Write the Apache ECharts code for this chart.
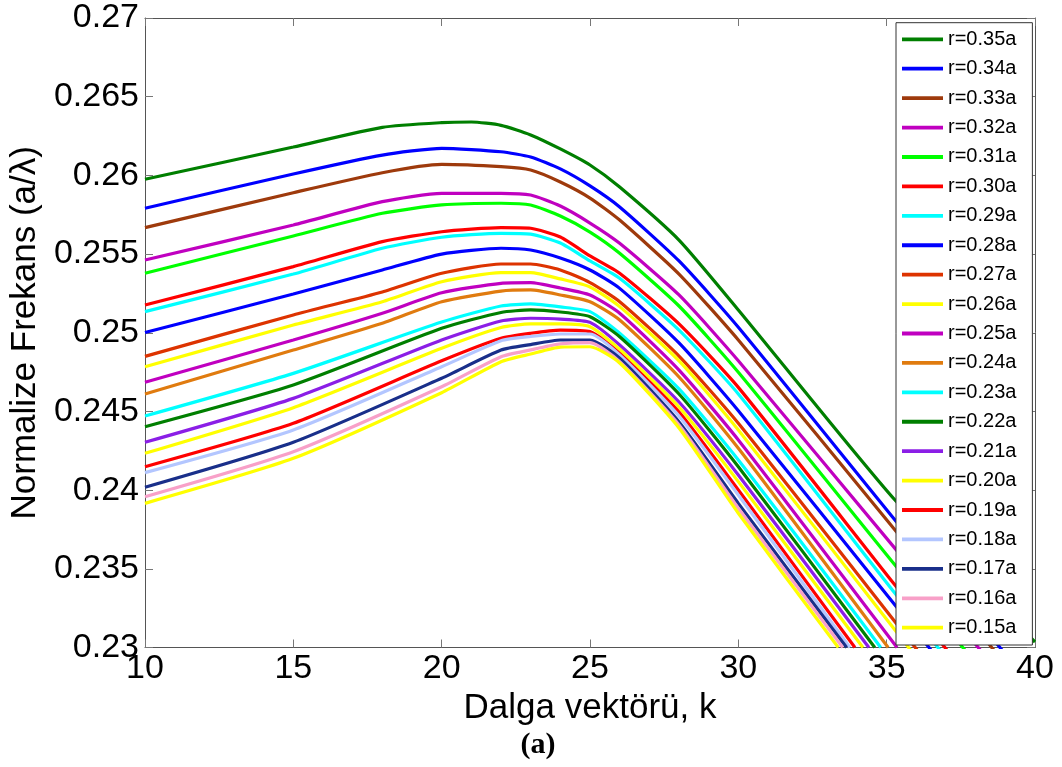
<!DOCTYPE html>
<html>
<head>
<meta charset="utf-8">
<script src="https://cdn.jsdelivr.net/npm/echarts@6/dist/echarts.min.js"></script>
<style>
html,body{margin:0;padding:0;background:#fff;}
#chart{width:1062px;height:767px;}
</style>
</head>
<body>
<div id="chart"></div>
<script>
// ---- data (k, normalized frequency) ----
const r35 = [[10,0.25975],[15,0.26180],[18,0.26305],[20,0.26335],[21,0.26339],[22,0.26318],[23,0.26257],[24,0.26168],[25,0.26066],[26,0.25926],[28,0.25589],[30,0.25145],[35.28,0.23937],[40,0.23035]];
const r34 = [[10,0.25791],[15,0.26009],[18,0.26129],[20,0.26172],[22,0.26150],[23,0.26117],[24,0.26041],[25,0.25933],[26,0.25799],[28,0.25456],[30,0.25035],[35.28,0.23810],[40,0.22730]];
const r33 = [[10,0.25668],[15,0.25890],[18,0.26017],[20,0.26070],[22,0.26055],[23,0.26034],[24,0.25958],[25,0.25856],[26,0.25716],[28,0.25373],[30,0.24954],[35.28,0.23747],[40,0.22666]];
const r32 = [[10,0.25462],[15,0.25685],[18,0.25833],[20,0.25886],[22,0.25886],[23,0.25875],[24,0.25805],[25,0.25697],[26,0.25568],[28,0.25240],[30,0.24822],[35.28,0.23630],[40,0.22571]];
const r31 = [[10,0.25378],[15,0.25615],[18,0.25759],[20,0.25812],[22,0.25823],[23,0.25812],[24,0.25742],[25,0.25640],[26,0.25505],[28,0.25170],[30,0.24749],[35.28,0.23524],[40,0.22444]];
const r30 = [[10,0.25176],[15,0.25420],[18,0.25579],[20,0.25642],[22,0.25668],[23,0.25664],[24,0.25608],[25,0.25488],[26,0.25378],[28,0.25056],[30,0.24653],[35.28,0.23397],[40,0.22285]];
const r29 = [[10,0.25134],[15,0.25373],[18,0.25537],[20,0.25607],[22,0.25632],[23,0.25627],[24,0.25570],[25,0.25456],[26,0.25346],[28,0.25017],[30,0.24611],[35.28,0.23344],[40,0.22222]];
const r28 = [[10,0.25002],[15,0.25246],[18,0.25399],[20,0.25500],[22,0.25537],[23,0.25526],[24,0.25475],[25,0.25399],[26,0.25282],[28,0.24935],[30,0.24505],[35.28,0.23270],[40,0.22158]];
const r27 = [[10,0.24850],[15,0.25113],[18,0.25259],[20,0.25378],[22,0.25437],[23,0.25437],[24,0.25399],[25,0.25319],[26,0.25197],[28,0.24852],[30,0.24425],[35.28,0.23164],[40,0.22031]];
const r26 = [[10,0.24784],[15,0.25049],[18,0.25197],[20,0.25324],[22,0.25382],[23,0.25382],[24,0.25342],[25,0.25291],[26,0.25166],[28,0.24821],[30,0.24382],[35.28,0.23111],[40,0.21968]];
const r25 = [[10,0.24685],[15,0.24954],[18,0.25124],[20,0.25254],[22,0.25314],[23,0.25318],[24,0.25284],[25,0.25240],[26,0.25124],[28,0.24763],[30,0.24319],[35.35,0.23]];
const r24 = [[10,0.24611],[15,0.24890],[18,0.25060],[20,0.25197],[22,0.25265],[23,0.25272],[24,0.25240],[25,0.25197],[26,0.25081],[28,0.24719],[30,0.24266],[35.05,0.23]];
const r23 = [[10,0.24471],[15,0.24742],[20,0.25068],[22,0.25170],[23,0.25183],[24,0.25164],[25,0.25134],[26,0.24997],[28,0.24643],[30,0.24191],[34.8,0.23]];
const r22 = [[10,0.24403],[15,0.24668],[20,0.25028],[22,0.25129],[23,0.25145],[24,0.25132],[25,0.25102],[26,0.24975],[28,0.24611],[30,0.24149],[34.6,0.23]];
const r21 = [[10,0.24304],[15,0.24583],[20,0.24954],[22,0.25075],[23,0.25092],[24,0.25087],[25,0.25066],[26,0.24922],[28,0.24560],[30,0.24096],[34.4,0.23]];
const r20 = [[10,0.24234],[15,0.24524],[20,0.24901],[22,0.25033],[23,0.25056],[24,0.25056],[25,0.25038],[26,0.24895],[28,0.24528],[30,0.24054],[34.2,0.23]];
const r19 = [[10,0.24149],[15,0.24425],[20,0.24822],[22,0.24965],[23,0.24997],[24,0.25017],[25,0.25007],[26,0.24869],[28,0.24496],[30,0.24001],[33.93,0.23]];
const r18 = [[10,0.24111],[15,0.24382],[20,0.24784],[22,0.24949],[23,0.24976],[24,0.24992],[25,0.24992],[26,0.24859],[28,0.24471],[30,0.23969],[33.76,0.23]];
const r17 = [[10,0.24018],[15,0.24304],[20,0.24711],[22,0.24890],[23,0.24925],[24,0.24954],[25,0.24954],[26,0.24838],[28,0.24433],[30,0.23916],[33.65,0.23]];
const r16 = [[10,0.23958],[15,0.24244],[20,0.24657],[22,0.24848],[23,0.24891],[24,0.24929],[25,0.24937],[26,0.24816],[28,0.24414],[30,0.23885],[33.52,0.23]];
const r15 = [[10,0.23916],[15,0.24202],[20,0.24619],[22,0.24816],[23,0.24865],[24,0.24909],[25,0.24911],[26,0.24808],[28,0.24395],[30,0.23853],[33.37,0.23]];

const seriesNames = ['r=0.35a','r=0.34a','r=0.33a','r=0.32a','r=0.31a','r=0.30a','r=0.29a','r=0.28a','r=0.27a','r=0.26a','r=0.25a','r=0.24a','r=0.23a','r=0.22a','r=0.21a','r=0.20a','r=0.19a','r=0.18a','r=0.17a','r=0.16a','r=0.15a'];
const seriesData = [r35,r34,r33,r32,r31,r30,r29,r28,r27,r26,r25,r24,r23,r22,r21,r20,r19,r18,r17,r16,r15];
const xTicks = [10,15,20,25,30,35,40];
const yTicks = [0.23,0.235,0.24,0.245,0.25,0.255,0.26,0.265,0.27];

const colors = ['#007F00','#0000FF','#9E3A0C','#C000C0','#00FF00','#FF0000','#00FFFF','#0000FF','#DD3300','#FFFF00','#C000C0','#E07B0F','#00FFFF','#007F00','#8B1EE6','#FFFF00','#FF0000','#B3C6FF','#192F8A','#F8A0C8','#FFFF00'];

const FONT = '"Liberation Sans", Arial, sans-serif';
const chart = echarts.init(document.getElementById('chart'), null, {renderer:'canvas'});

const axisCommon = {
  type:'value',
  axisLine:{show:true, onZero:false, lineStyle:{color:'#555', width:1}},
  axisTick:{show:true, inside:true, length:8, lineStyle:{color:'#777', width:1}},
  splitLine:{show:false}
};

const option = {
  animation:false,
  backgroundColor:'#fff',
  color: colors,
  grid:{left:145, right:27, top:18, bottom:119.5, containLabel:false},
  legend:{
    data: seriesNames,
    orient:'vertical',
    left:896, top:22.7,
    padding:[6.6,16,7.3,6],
    itemGap:9.42,
    itemWidth:41, itemHeight:3.8,
    icon:'rect',
    backgroundColor:'#fff',
    borderColor:'#333', borderWidth:1,
    textStyle:{fontFamily:FONT, fontSize:20, color:'#000', lineHeight:20}
  },
  xAxis:[
    Object.assign({}, axisCommon, {
      min:xTicks[0], max:xTicks[xTicks.length-1], interval:5, position:'bottom',
      name:'Dalga vektörü, k', nameLocation:'middle', nameGap:40,
      nameTextStyle:{fontFamily:FONT, fontSize:35, color:'#000'},
      axisLabel:{fontFamily:FONT, fontSize:34, color:'#000', margin:4}
    }),
    Object.assign({}, axisCommon, {
      min:xTicks[0], max:xTicks[xTicks.length-1], interval:5, position:'top',
      axisLabel:{show:false}
    })
  ],
  yAxis:[
    Object.assign({}, axisCommon, {
      min:yTicks[0], max:yTicks[yTicks.length-1], interval:0.005, position:'left',
      name:'Normalize Frekans (a/λ)', nameLocation:'middle', nameGap:97,
      nameTextStyle:{fontFamily:FONT, fontSize:35, color:'#000'},
      axisLabel:{fontFamily:FONT, fontSize:34, color:'#000', margin:6,
        formatter: v => String(parseFloat(v.toFixed(3)))}
    }),
    Object.assign({}, axisCommon, {
      min:yTicks[0], max:yTicks[yTicks.length-1], interval:0.005, position:'right',
      axisLabel:{show:false}
    })
  ],
  graphic:[{
    type:'text', x:538, y:745,
    style:{text:'(a)', font:'bold 30px "Liberation Serif", "Times New Roman", serif', fill:'#000',
      textAlign:'center', textVerticalAlign:'middle'}
  }],
  series: seriesData.map((d,i)=>({
    name: seriesNames[i],
    type:'line',
    data: d,
    symbol:'none',
    smooth:0.2,
    clip:true,
    lineStyle:{width:3.2, color:colors[i]},
    itemStyle:{color:colors[i]},
    z:2
  }))
};
chart.setOption(option);
</script>
</body>
</html>
